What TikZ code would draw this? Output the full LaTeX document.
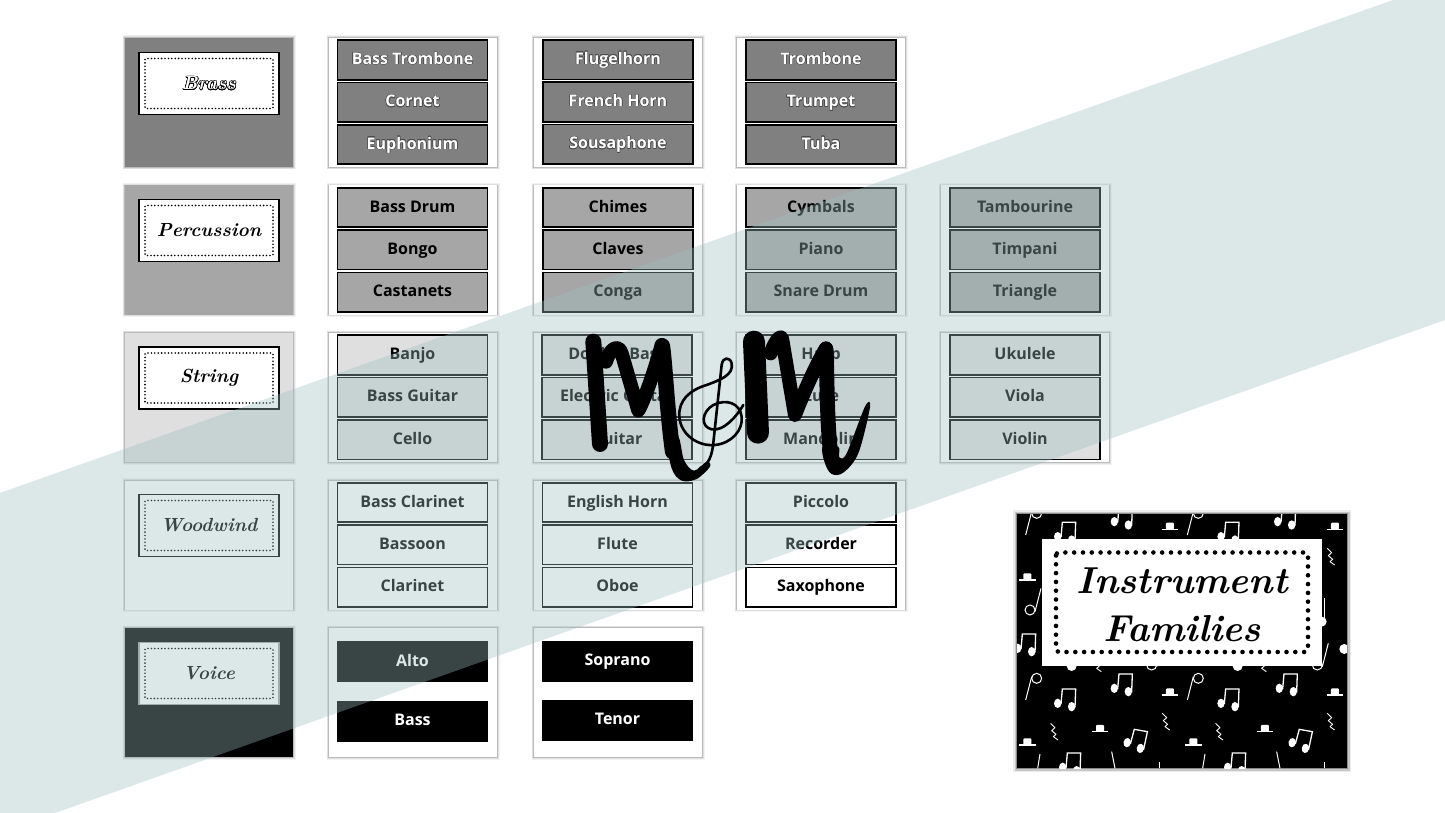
\documentclass[tikz,border=0pt]{standalone}
\usepackage{fontspec}
\usepackage[copies]{contour}
\usetikzlibrary{calc}
\newfontfamily\cellfont{Open Sans}
\contournumber{16}
\definecolor{gbrass}{HTML}{808080}
\definecolor{gperc}{HTML}{A6A6A6}
\definecolor{gstr}{HTML}{DFDFDF}
\definecolor{bandc}{RGB}{159,191,191}
\tikzset{
  x=1pt,y=-1pt,
  card/.style={rectangle,anchor=north west,inner sep=0,outer sep=0,minimum width=#1,minimum height=129,
     preaction={draw=black,opacity=.05,line width=5},preaction={draw=black,opacity=.08,line width=3.4},preaction={draw=black,opacity=.16,line width=1.8}},
  cellb/.style={rectangle,draw=black,line width=1.7,inner sep=0,outer sep=0,minimum width=150,minimum height=39.5,
     font=\cellfont\fontsize{16}{18}\bfseries,text height=12,text depth=3},
  lab/.style={rectangle,draw=black,line width=1.8,fill=white,inner sep=0,outer sep=0,minimum width=140,minimum height=62,
     font=\fontsize{19}{22}\bfseries\itshape},
  dotline/.style={line width=1.8,dash pattern=on 0pt off 3.4pt,line cap=round,rounded corners=1},
  pics/beamn/.style={code={
     \fill[white] (-22,10) ellipse[x radius=11,y radius=14];
     \fill[white] (20,20) ellipse[x radius=11,y radius=14];
     \draw[white,line width=1.3] (-12,12) -- (-8,-33) -- (32,-33) -- (30,22);}},
  pics/hollown/.style={code={
     \draw[white,line width=1] (-28,50) -- (-10,-20);
     \draw[white,line width=1] (5,-15) circle[radius=15];}},
  pics/hatm/.style={code={
     \draw[white,line width=1.3] (-25,10) -- (25,10);
     \fill[white,rounded corners=1] (-12,10) rectangle (12,-10);}},
  pics/sqg/.style={code={
     \draw[white,line width=.9,line join=round] (-8,-25) -- (5,-12) -- (-5,-3) -- (8,8) -- (0,15) -- (14,25);}},
}
\newcommand{\threecells}[8]{%
  \node[cellb,fill=#2,text=#3] (#1a) at (#4,#5) {#6};
  \node[cellb,fill=#2,text=#3] (#1b) at (#4,#5+42.3) {#7};
  \node[cellb,fill=#2,text=#3] (#1c) at (#4,#5+84.6) {#8};}
\begin{document}
\begin{tikzpicture}
\useasboundingbox (0,0) rectangle (1445,813);
\fill[white] (0,0) rectangle (1445,813);
% family cards
\node[card=168,fill=gbrass] (cBrass) at (125,38) {};
\node[card=168,fill=gperc] (cPerc) at (125,185.5) {};
\node[card=168,fill=gstr] (cStr) at (125,333) {};
\node[card=168,fill=white] (cWood) at (125,480.5) {};
\node[card=168,fill=black] (cVoice) at (125,628) {};
\node[lab] (lBrass) at (209,83.5) {\contourlength{0.6pt}\textcolor{white}{\contour{black}{Brass}}};
\node[lab] (lPerc) at (209,230.5) {Percussion};
\node[lab] (lStr) at (209,378) {String};
\node[lab] (lWood) at (209,525.5) {Woodwind};
\node[lab,draw=gray!75!white] (lVoice) at (209,673.5) {Voice};
\foreach \n in {lBrass,lPerc,lStr,lWood,lVoice}
  \draw[dotline] ($(\n.north west)+(6,6)$) rectangle ($(\n.south east)+(-6,-6)$);
% instrument cards
\foreach \nm/\xx/\yy in {c01/329/38,c02/534/38,c03/737/38,c11/329/185.5,c12/534/185.5,c13/737/185.5,c14/941/185.5,
   c21/329/333,c22/534/333,c23/737/333,c24/941/333,c31/329/480.5,c32/534/480.5,c33/737/480.5,c41/329/628,c42/534/628}
  \node[card=168,fill=white] (\nm) at (\xx,\yy) {};
\contourlength{0.45pt}
\newcommand{\wc}[1]{\contour{black!70}{#1}}
\threecells{r01}{gbrass}{white}{412.5}{60}{\wc{Bass Trombone}}{\wc{Cornet}}{\wc{Euphonium}}
\threecells{r02}{gbrass}{white}{618}{59.7}{\wc{Flugelhorn}}{\wc{French Horn}}{\wc{Sousaphone}}
\threecells{r03}{gbrass}{white}{821}{60}{\wc{Trombone}}{\wc{Trumpet}}{\wc{Tuba}}
\threecells{r11}{gperc}{black}{412.5}{207.5}{Bass Drum}{Bongo}{Castanets}
\threecells{r12}{gperc}{black}{618}{207.5}{Chimes}{Claves}{Conga}
\threecells{r13}{gperc}{black}{821}{207.5}{Cymbals}{Piano}{Snare Drum}
\threecells{r14}{gperc}{black}{1025}{207.5}{Tambourine}{Timpani}{Triangle}
\threecells{r21}{gstr}{black}{412.5}{355}{Banjo}{Bass Guitar}{Cello}
\threecells{r22}{gstr}{black}{617}{355}{Double Bass}{Electric Guitar}{Guitar}
\threecells{r23}{gstr}{black}{821}{355}{Harp}{Lute}{Mandolin}
\threecells{r24}{gstr}{black}{1025}{355}{Ukulele}{Viola}{Violin}
\threecells{r31}{white}{black}{412.5}{502.5}{Bass Clarinet}{Bassoon}{Clarinet}
\threecells{r32}{white}{black}{617.5}{502.5}{English Horn}{Flute}{Oboe}
\threecells{r33}{white}{black}{821}{502.5}{Piccolo}{Recorder}{Saxophone}
\foreach \nm/\xx/\yy/\tx in {v1/412.5/661.5/Alto,v2/412.5/721/Bass,v3/617.5/661/Soprano,v4/617.5/720/Tenor}
  \node[cellb,draw=none,minimum height=41,minimum width=151,fill=black,text=white] (\nm) at (\xx,\yy) {\tx};
% instrument families card
\node[rectangle,anchor=north west,inner sep=0,outer sep=0,minimum width=330,minimum height=254,fill=black,
  preaction={draw=black,opacity=.08,line width=8},preaction={draw=black,opacity=.15,line width=5},preaction={draw=black,opacity=.3,line width=2.5}] (cFam) at (1017,514) {};
\begin{scope}
\clip (1017,514) rectangle (1347,768);
\begin{scope}[shift={(1005,500)},x=0.3333pt,y=-0.3333pt]
 \foreach \p/\q in {90/55,575/55,90/550,575/550}
   \pic at (\p,\q) {hollown};
 \foreach \p/\q in {180/100,350/55,670/100,840/55,180/600,350/555,670/600,845/555,60/435,195/792,690/792}
   \pic at (\p,\q) {beamn};
 \pic[rotate=-10] at (390,722) {beamn};
 \pic[rotate=-10] at (885,722) {beamn};
 \foreach \p/\q in {495/78,990/78,67/230,495/575,990/575,285/685,780/685,67/725,565/725}
   \pic at (\p,\q) {hatm};
 \foreach \p/\q in {975/170,145/695,480/665,640/695,975/665,275/490,770/490}
   \pic at (\p,\q) {sqg};
 \pic[rotate=180] at (80,315) {hollown};
 \pic[rotate=180] at (445,480) {hollown};
 \pic[rotate=180] at (942,480) {hollown};
 \draw[white,line width=1] (960,295) -- (960,360);
 \fill[white] (950,365) circle[radius=15];
 \fill[white] (1018,447) circle[radius=15];
 \fill[white] (200,498) circle[radius=15];
 \fill[white] (698,498) circle[radius=15];
 \foreach \p/\q/\r/\s in {105/762/98/805,320/755/330/805,465/785/465/805,600/762/593/805,815/755/825/805,960/785/960/805}
   \draw[white,line width=1] (\p,\q) -- (\r,\s);
\end{scope}
\end{scope}
\node[rectangle,fill=white,inner sep=0,outer sep=0,minimum width=280,minimum height=127,anchor=north west] (famBox) at (1042,539) {};
\draw[line width=4.6,dash pattern=on 0pt off 8.8pt,line cap=round,rounded corners=3] ($(famBox.north west)+(14,13.5)$) rectangle ($(famBox.south east)+(-14,-14)$);
\node[font=\fontsize{37.5}{48}\selectfont\bfseries\itshape,align=center,inner sep=0] (famT) at (1182,605) {Instrument\\Families};
% band overlay
\fill[bandc,opacity=.36] (0,493) -- (1393,0) -- (1445,0) -- (1445,320) -- (55,813) -- (0,813) -- cycle;
% logo
\begin{scope}[shift={(530,320)},x=0.3333pt,y=-0.3333pt]
 \draw[black,line width=16pt,line cap=round] (190,65) -- (210,372);
 \draw[black,line width=14pt,line cap=round,line join=round] (228,125) .. controls (240,85) and (265,70) .. (275,100) -- (325,272) .. controls (350,225) and (380,130) .. (395,75);
 \draw[black,line width=15.5pt,line cap=round] (397,78) .. controls (405,130) and (412,280) .. (428,395);
 \fill[black] plot[smooth cycle,tension=.55] coordinates {(410,350)(445,350)(462,420)(492,452)(530,425)(540,440)(500,477)(455,482)(425,445)};
 \draw[black,line width=22pt,line cap=round] (672,65) -- (684,338);
 \draw[black,line width=14pt,line cap=round,line join=round] (722,100) .. controls (735,60) and (755,40) .. (757,60) -- (795,285) .. controls (820,220) and (860,130) .. (888,85);
 \draw[black,line width=15pt,line cap=round] (888,88) .. controls (892,180) and (890,300) .. (903,410);
 \fill[black] plot[smooth cycle,tension=.55] coordinates {(878,380)(925,380)(928,412)(950,400)(1005,260)(1020,262)(985,400)(940,458)(905,462)(885,430)};
 \draw[black,line width=2.6,line cap=round,line join=round] (510,445) .. controls (545,430) and (548,390) .. (552,350) -- (575,135) .. controls (578,110) and (600,110) .. (605,130) .. controls (612,165) and (570,180) .. (530,195) .. controls (480,210) and (445,240) .. (448,290) .. controls (452,345) and (505,380) .. (555,375) .. controls (605,370) and (640,330) .. (635,290) .. controls (630,250) and (590,235) .. (550,255) .. controls (515,275) and (510,320) .. (545,328) .. controls (580,335) and (620,290) .. (640,255);
\end{scope}
\end{tikzpicture}
\end{document}
